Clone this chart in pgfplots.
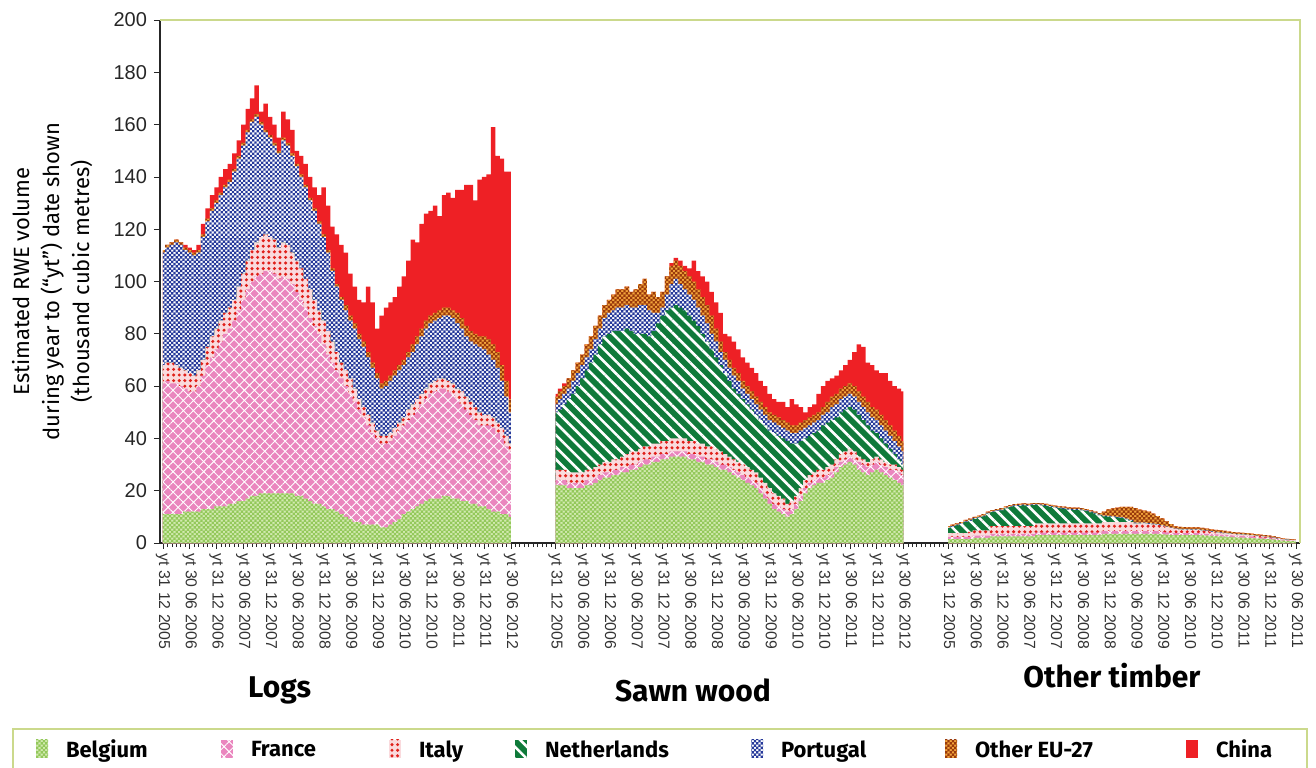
\documentclass[border=0pt]{standalone}
\usepackage{fontspec}
\setmainfont{Liberation Sans}
\newfontfamily\fira{Fira Sans}
\usepackage{pgfplots}
\usepackage{pgfplotstable}
\pgfplotsset{compat=1.18}
\usetikzlibrary{patterns,patterns.meta}

\definecolor{belA}{HTML}{D2EAB0}
\definecolor{belB}{HTML}{93C85A}
\definecolor{fraA}{HTML}{EA86BE}
\definecolor{itaA}{HTML}{FADADD}
\definecolor{itaB}{HTML}{E0201A}
\definecolor{nedA}{HTML}{0F7A3A}
\definecolor{porB}{HTML}{26399A}
\definecolor{othA}{HTML}{F3A53C}
\definecolor{othB}{HTML}{9A3A0C}
\definecolor{chnA}{HTML}{EE2025}
\definecolor{frame}{HTML}{CBD98C}

% small checker, about the size of the one in the source chart
\pgfdeclarepatternformonly{smallcheck}{\pgfqpoint{-.05pt}{-.05pt}}{\pgfqpoint{2.3pt}{2.3pt}}{\pgfqpoint{2.25pt}{2.25pt}}{%
  \pgfpathrectangle{\pgfqpoint{0pt}{0pt}}{\pgfqpoint{1.15pt}{1.15pt}}%
  \pgfpathrectangle{\pgfqpoint{1.125pt}{1.125pt}}{\pgfqpoint{1.15pt}{1.15pt}}%
  \pgfusepath{fill}}

\pgfplotsset{
  bel/.style={draw=none,fill=belA,postaction={pattern=smallcheck,pattern color=belB}},
  fra/.style={draw=none,fill=fraA,postaction={pattern={Hatch[angle=45,distance=3.6pt,line width=0.45pt]},pattern color=white}},
  ita/.style={draw=none,fill=itaA,postaction={pattern={Dots[distance=2.8pt,radius=0.85pt]},pattern color=itaB}},
  ned/.style={draw=none,fill=nedA,postaction={pattern={Lines[angle=-45,distance=4.3pt,line width=1.3pt]},pattern color=white}},
  por/.style={draw=none,fill=white,postaction={pattern=smallcheck,pattern color=porB}},
  oth/.style={draw=none,fill=othA,postaction={pattern=smallcheck,pattern color=othB}},
  chn/.style={draw=none,fill=chnA},
}

% thousand m3, year to date; m = month index from yt 31 12 2005
\pgfplotstableread{
m bel fra ita ned por oth chn
0 11 50 7 0 43 1 0
1 11 51 7 0 44 1 0
2 11 50 8 0 45 1 0
3 11 50 7 0 47 1 0
4 11 49 7 0 47 1 0
5 12 47 7 0 46 1 1
6 12 46 7 0 46 1 1
7 12 46 6 0 46 1 1
8 12 48 6 0 45 1 2
9 13 51 6 0 47 1 4
10 13 55 7 0 48 1 4
11 13 58 8 0 48 1 5
12 14 60 8 0 48 1 5
13 14 63 8 0 48 1 6
14 14 66 8 0 48 1 6
15 15 67 8 0 48 1 6
16 15 70 8 0 49 1 6
17 16 73 9 0 49 1 6
18 16 77 10 0 49 1 7
19 17 80 11 0 49 1 8
20 18 82 12 0 49 1 8
21 18 84 13 0 48 1 11
22 19 84 14 0 43 1 4
23 19 85 14 0 39 1 10
24 19 85 13 0 38 1 7
25 19 84 13 0 36 1 7
26 19 82 12 0 36 1 5
27 19 83 13 0 39 1 10
28 19 82 13 0 38 1 9
29 19 80 12 0 37 1 9
30 18 78 12 0 36 1 5
31 18 75 12 0 35 1 7
32 17 73 11 0 35 1 8
33 16 70 11 0 34 1 8
34 15 68 10 0 34 1 8
35 15 65 9 0 33 1 10
36 14 62 9 0 32 1 18
37 13 59 9 0 30 1 17
38 13 56 8 0 27 1 16
39 12 54 7 0 25 1 19
40 11 52 6 0 24 1 20
41 10 50 6 0 23 2 20
42 9 48 6 0 22 2 16
43 8 46 5 0 23 2 14
44 8 43 4 0 23 2 13
45 7 41 4 0 23 2 15
46 7 38 4 0 22 2 25
47 7 35 4 0 21 2 23
48 7 33 3 0 20 2 17
49 6 32 3 0 18 2 26
50 6 32 3 0 19 2 28
51 7 32 3 0 20 2 28
52 8 33 3 0 20 2 28
53 9 34 3 0 20 2 30
54 11 34 3 0 20 2 32
55 12 35 4 0 20 2 35
56 13 36 4 0 20 3 40
57 14 37 4 0 21 3 36
58 15 38 4 0 22 3 40
59 16 39 4 0 23 3 41
60 17 40 4 0 23 3 40
61 17 41 4 0 23 3 41
62 17 42 4 0 23 3 36
63 18 41 4 0 24 3 43
64 18 40 4 0 25 3 44
65 17 40 4 0 25 3 43
66 17 38 4 0 25 4 47
67 16 37 5 0 24 4 49
68 16 35 5 0 23 4 54
69 15 34 5 0 23 4 56
70 15 32 5 0 24 4 51
71 14 31 5 0 25 4 60
72 14 31 4 0 25 5 61
73 13 32 4 0 23 6 63
74 12 32 4 0 22 6 83
75 12 30 4 0 21 6 75
76 11 29 4 0 18 6 79
77 11 26 4 0 15 6 80
78 10 25 3 0 12 5 87
}\logs

\pgfplotstableread{
m bel fra ita ned por oth chn
0 22 2 4 22 3 3 1
1 22 2 4 23 4 3 1
2 22 2 4 25 4 3 1
3 21 2 4 28 4 4 0
4 21 2 4 30 5 4 0
5 21 2 4 33 5 4 0
6 21 2 4 36 5 4 0
7 22 2 4 38 5 5 0
8 22 2 4 41 5 5 0
9 23 2 4 43 6 5 0
10 24 2 4 46 6 5 0
11 25 2 4 48 7 5 0
12 25 2 4 49 8 5 0
13 26 2 4 49 8 6 0
14 26 2 4 49 9 7 0
15 27 2 4 48 9 7 0
16 27 2 5 48 9 7 0
17 28 2 5 46 9 6 0
18 28 2 5 45 10 7 0
19 29 2 5 44 11 8 0
20 30 2 5 43 11 10 0
21 30 2 5 42 10 6 0
22 31 2 5 43 7 8 0
23 31 2 5 46 4 6 0
24 32 2 5 48 3 6 0
25 32 2 5 50 6 7 0
26 33 2 5 50 9 7 1
27 33 2 5 51 10 7 1
28 33 2 5 50 9 7 2
29 33 2 5 49 8 7 2
30 32 2 5 48 8 7 3
31 32 2 5 46 8 7 8
32 31 2 5 45 7 7 7
33 31 2 5 42 7 7 8
34 30 2 5 40 7 7 9
35 30 2 5 37 6 7 9
36 29 2 5 35 6 5 10
37 28 2 5 33 5 4 11
38 28 2 4 31 5 3 7
39 27 2 4 29 5 3 9
40 26 2 4 27 5 3 10
41 25 2 4 26 5 3 9
42 24 2 4 25 4 3 9
43 23 2 4 24 4 3 9
44 22 2 4 23 4 3 9
45 21 2 4 22 4 3 9
46 19 2 4 22 4 3 8
47 17 2 4 22 4 3 8
48 15 2 4 22 4 3 7
49 13 2 4 23 4 3 6
50 12 2 4 23 4 3 6
51 11 2 4 23 4 3 7
52 10 2 3 24 4 3 6
53 11 2 3 22 4 3 10
54 13 2 3 20 4 3 8
55 16 2 3 18 4 3 6
56 19 2 3 16 4 3 3
57 21 2 3 15 4 3 4
58 22 2 3 15 4 3 4
59 23 2 3 15 4 3 7
60 23 2 3 17 4 3 8
61 24 2 3 17 4 4 8
62 25 2 3 17 5 4 7
63 27 2 3 16 5 4 7
64 29 2 3 16 5 4 7
65 30 2 3 16 5 4 8
66 31 2 3 16 5 4 9
67 30 2 3 16 5 4 13
68 28 3 2 16 5 4 18
69 27 3 2 15 5 4 19
70 26 3 2 14 5 4 15
71 27 3 2 11 5 4 16
72 28 3 2 9 5 4 15
73 27 3 2 8 5 4 16
74 26 3 2 7 5 4 18
75 25 3 2 6 5 4 17
76 24 4 2 4 5 4 17
77 23 4 2 3 5 4 18
78 22 4 2 2 5 4 19
}\sawn

\pgfplotstableread{
m bel fra ita ned por oth chn
0 1.5 0.8 1.5 1.9 0.3 0.5 0
1 1.5 0.8 1.5 2.4 0.3 0.5 0
2 1.5 0.8 1.5 2.9 0.3 0.5 0
3 1.5 0.8 1.5 3.4 0.3 0.5 0
4 1.5 0.8 1.5 4.2 0.3 0.5 0
5 1.5 0.8 2 4.2 0.3 0.5 0
6 2 0.8 2 4.4 0.3 0.5 0
7 2 0.8 2 4.9 0.3 0.5 0
8 2 0.8 2 5.4 0.3 0.5 0
9 2 0.8 2 6.4 0.3 0.5 0
10 2.5 1 3 5.3 0.3 0.5 0
11 2.5 1 3 5.7 0.3 0.5 0
12 2.5 1 3 6.0 0.3 0.5 0
13 2.5 1 3 6.7 0.3 0.5 0
14 2.5 1 3 7.2 0.3 0.5 0
15 2.5 1 3 7.6 0.3 0.5 0
16 2.5 1 3 7.7 0.3 0.5 0
17 2.5 1 3 7.9 0.3 0.5 0
18 2.5 1 3 7.7 0.3 0.5 0
19 2.5 1 3 8.0 0.3 0.5 0
20 3 1 3.5 7.0 0.3 0.5 0
21 3 1 3.5 6.9 0.3 0.5 0
22 3 1 3.5 6.7 0.3 0.5 0
23 3 1 3.5 6.3 0.3 0.5 0
24 3 1 3.5 6.0 0.3 0.5 0
25 3 1 3.5 5.7 0.3 0.5 0
26 3 1 3.5 5.6 0.3 0.5 0
27 3 1 3.5 5.3 0.3 0.5 0
28 3 1 3.5 5.2 0.3 0.5 0
29 3 1 3.5 5.2 0.3 0.5 0
30 3 1 3.5 5.0 0.3 0.5 0
31 3 1 3.5 4.7 0.3 0.5 0
32 3 1 3.5 4.2 0.3 0.5 0
33 3 1 3.5 3.7 0.3 0.5 0
34 3 1 3.5 3.1 0.3 0.5 0
35 3.5 1 3.5 2.2 0.3 1.5 0
36 3.5 1 3.5 2.1 0.3 2.5 0
37 3.5 1 3.5 1.9 0.3 3 0
38 3.5 1 3.5 1.7 0.3 3.5 0
39 3.5 1 3.5 1.5 0.3 4 0
40 3.5 1 3.5 1.0 0.3 4.5 0
41 3.5 1 3.5 0.5 0.3 5 0
42 3.5 1 3 0 0.3 5.5 0
43 3.5 1 3 0 0.3 5 0
44 3.5 1 3 0 0.3 4.6 0
45 3.5 1 2.8 0 0.3 4.4 0
46 3.5 1 2.6 0 0.3 3.8 0
47 3.5 1 2.4 0 0.3 3.1 0
48 3.3 1 2.2 0 0.2 2.7 0
49 3.2 0.9 2 0 0.2 2 0
50 3 0.9 1.8 0 0.2 1.3 0
51 3 0.8 1.5 0 0.2 0.9 0
52 3 0.8 1.4 0 0.2 0.8 0
53 3 0.8 1.3 0 0.2 0.8 0
54 3 0.8 1.2 0 0.2 0.8 0
55 3 0.8 1.2 0 0.2 0.8 0
56 3 0.8 1.2 0 0.2 0.8 0
57 2.9 0.8 1.1 0 0.2 0.8 0
58 2.8 0.7 1 0 0.2 0.8 0
59 2.7 0.7 0.9 0 0.2 0.7 0
60 2.6 0.7 0.8 0 0.2 0.7 0
61 2.5 0.7 0.7 0 0.2 0.7 0
62 2.4 0.7 0.6 0 0.2 0.7 0
63 2.3 0.7 0.6 0 0.1 0.7 0
64 2.2 0.6 0.6 0 0.1 0.7 0
65 2.1 0.6 0.5 0 0.1 0.7 0
66 2.1 0.6 0.5 0 0.1 0.6 0
67 2 0.6 0.5 0 0.1 0.6 0
68 1.9 0.6 0.4 0 0.1 0.6 0
69 1.8 0.5 0.4 0 0.1 0.6 0
70 1.7 0.5 0.4 0 0.1 0.5 0
71 1.6 0.5 0.3 0 0.1 0.5 0
72 1.5 0.4 0.3 0 0.1 0.5 0
73 1.3 0.4 0.3 0 0.1 0.4 0
74 1.1 0.4 0.2 0 0.1 0.4 0
75 0.9 0.3 0.2 0 0.1 0.3 0
76 0.8 0.3 0.2 0 0 0.3 0
77 0.7 0.2 0.2 0 0 0.3 0
78 0.6 0.2 0.2 0 0 0.3 0
}\other

% running totals, so that each layer can be filled down to zero
\newcommand\cumulate[1]{%
  \pgfplotstablecreatecol[expr={\thisrow{bel}+\thisrow{fra}}]{c2}{#1}%
  \pgfplotstablecreatecol[expr={\thisrow{c2}+\thisrow{ita}}]{c3}{#1}%
  \pgfplotstablecreatecol[expr={\thisrow{c3}+\thisrow{ned}}]{c4}{#1}%
  \pgfplotstablecreatecol[expr={\thisrow{c4}+\thisrow{por}}]{c5}{#1}%
  \pgfplotstablecreatecol[expr={\thisrow{c5}+\thisrow{oth}}]{c6}{#1}%
  \pgfplotstablecreatecol[expr={\thisrow{c6}+\thisrow{chn}}]{c7}{#1}%
}
\cumulate\logs
\cumulate\sawn
\cumulate\other

\newcommand\drawgroup[2]{%
  \addplot[chn,const plot mark mid,forget plot] table[x expr=\thisrow{m}+#2,y=c7]{#1}\closedcycle;
  \addplot[oth,const plot mark mid,forget plot] table[x expr=\thisrow{m}+#2,y=c6]{#1}\closedcycle;
  \addplot[por,const plot mark mid,forget plot] table[x expr=\thisrow{m}+#2,y=c5]{#1}\closedcycle;
  \addplot[ned,const plot mark mid,forget plot] table[x expr=\thisrow{m}+#2,y=c4]{#1}\closedcycle;
  \addplot[ita,const plot mark mid,forget plot] table[x expr=\thisrow{m}+#2,y=c3]{#1}\closedcycle;
  \addplot[fra,const plot mark mid,forget plot] table[x expr=\thisrow{m}+#2,y=c2]{#1}\closedcycle;
  \addplot[bel,const plot mark mid,forget plot] table[x expr=\thisrow{m}+#2,y=bel]{#1}\closedcycle;
}

\begin{document}
\begin{tikzpicture}
\path[use as bounding box] (-80pt,-112pt) rectangle (578pt,271.5pt);
\begin{axis}[
  scale only axis,
  width=570pt, height=261.5pt,
  xmin=-0.67, xmax=254.9,
  ymin=0, ymax=200,
  clip=false,
  axis lines*=left,
  axis line style={black!85,line width=0.8pt},
  tick align=outside,
  tick style={black!85,line width=0.4pt},
  major tick length=3pt,
  minor tick length=2pt,
  ytick={0,20,...,200},
  yticklabel style={font=\fontsize{10}{12}\selectfont,text=black!85},
  /pgf/number format/assume math mode=true,
  xtick={0,6,12,18,24,30,36,42,48,54,60,66,72,78,88,94,100,106,112,118,124,130,136,142,148,154,160,166,176,182,188,194,200,206,212,218,224,230,236,242,248,254},
  minor xtick={0,1,...,254},
  xticklabels={yt 31 12 2005,yt 30 06 2006,yt 31 12 2006,yt 30 06 2007,yt 31 12 2007,yt 30 06 2008,yt 31 12 2008,yt 30 06 2009,yt 31 12 2009,yt 30 06 2010,yt 31 12 2010,yt 30 06 2011,yt 31 12 2011,yt 30 06 2012,
    yt 31 12 2005,yt 30 06 2006,yt 31 12 2006,yt 30 06 2007,yt 31 12 2007,yt 30 06 2008,yt 31 12 2008,yt 30 06 2009,yt 31 12 2009,yt 30 06 2010,yt 31 12 2010,yt 30 06 2011,yt 31 12 2011,yt 30 06 2012,
    yt 31 12 2005,yt 30 06 2006,yt 31 12 2006,yt 30 06 2007,yt 31 12 2007,yt 30 06 2008,yt 31 12 2008,yt 30 06 2009,yt 31 12 2009,yt 30 06 2010,yt 31 12 2010,yt 30 06 2011,yt 31 12 2011,yt 30 06 2011},
  xticklabel style={rotate=-90,anchor=west,font=\fontsize{7.9}{9}\selectfont,text=black!80,inner xsep=2pt},
  ylabel={Estimated RWE volume\\during year to (“yt”) date shown\\(thousand cubic metres)},
  ylabel style={align=center,font=\fira\fontsize{11}{15}\selectfont,at={(axis description cs:-0.0947,0.5)},anchor=center},
  legend columns=7,
  legend image code/.code={\path[#1] (0pt,-4.5pt) rectangle (6pt,4.5pt);},
  legend style={at={(axis description cs:-0.1298,-0.3537)},anchor=north west,
    draw=frame,line width=1pt,inner xsep=11.5pt,inner ysep=5.5pt,
    font=\fira\bfseries\fontsize{11}{13}\selectfont,
    nodes={inner sep=0pt,text depth=0pt},cells={anchor=west},
    /tikz/every even column/.append style={column sep=0pt}},
]
\drawgroup{\logs}{0}
\drawgroup{\sawn}{88}
\drawgroup{\other}{176}

\draw[frame,line width=1pt] (rel axis cs:0,1) -- (rel axis cs:1,1) -- (rel axis cs:1,0);

\addlegendimage{bel}\addlegendentry{\makebox[86.5pt][l]{\hspace{9pt}Belgium}}
\addlegendimage{fra}\addlegendentry{\makebox[78pt][l]{\hspace{9pt}France}}
\addlegendimage{ita}\addlegendentry{\makebox[57pt][l]{\hspace{9pt}Italy}}
\addlegendimage{ned}\addlegendentry{\makebox[112pt][l]{\hspace{9pt}Netherlands}}
\addlegendimage{por}\addlegendentry{\makebox[91pt][l]{\hspace{9pt}Portugal}}
\addlegendimage{oth}\addlegendentry{\makebox[114.5pt][l]{\hspace{9pt}Other EU-27}}
\addlegendimage{chn}\addlegendentry{\makebox[43pt][l]{\hspace{9pt}China}}

\node[font=\fira\bfseries\fontsize{15}{18}\selectfont] at (axis description cs:0.105,-0.281) {Logs};
\node[font=\fira\bfseries\fontsize{15}{18}\selectfont] at (axis description cs:0.4675,-0.281) {Sawn wood};
\node[font=\fira\bfseries\fontsize{15}{18}\selectfont] at (axis description cs:0.835,-0.254) {Other timber};
\end{axis}
\end{tikzpicture}
\end{document}
